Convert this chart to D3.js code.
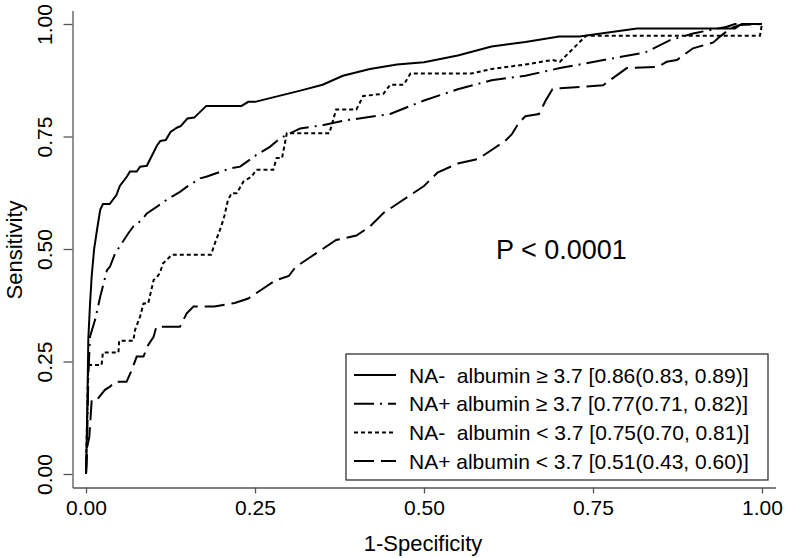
<!DOCTYPE html>
<html>
<head>
<meta charset="utf-8">
<script src="https://cdn.jsdelivr.net/npm/d3@7"></script>
<style>
  body { margin: 0; background: #fff; }
  svg { font-family: "Liberation Sans", Arial, sans-serif; }
  text { white-space: pre; }
</style>
</head>
<body>
<script>
// ROC curves, [1-specificity, sensitivity] pairs
var naNegHigh = [
  [0,0],[0.002,0.15],[0.0034,0.30],[0.006,0.38],[0.0084,0.44],[0.012,0.50],[0.016,0.54],
  [0.021,0.587],[0.025,0.60],[0.035,0.60],[0.045,0.62],[0.05,0.64],[0.06,0.66],[0.065,0.672],
  [0.075,0.672],[0.08,0.683],[0.09,0.685],[0.095,0.70],[0.105,0.73],[0.11,0.74],[0.118,0.742],
  [0.125,0.76],[0.135,0.77],[0.14,0.773],[0.15,0.79],[0.16,0.792],[0.178,0.818],[0.23,0.818],
  [0.24,0.827],[0.25,0.827],[0.317,0.852],[0.35,0.865],[0.38,0.885],[0.42,0.90],[0.46,0.91],
  [0.50,0.915],[0.55,0.93],[0.60,0.95],[0.65,0.96],[0.70,0.972],[0.73,0.972],[0.815,0.99],
  [0.96,0.99],[0.97,1],[1,1]
];
var naPosHigh = [
  [0,0],[0.002,0.10],[0.0034,0.216],[0.0059,0.305],[0.0133,0.342],[0.021,0.394],[0.031,0.453],
  [0.0355,0.461],[0.043,0.49],[0.0626,0.535],[0.07,0.55],[0.082,0.564],[0.09,0.579],[0.105,0.594],
  [0.119,0.609],[0.139,0.627],[0.149,0.638],[0.169,0.657],[0.179,0.661],[0.213,0.679],[0.228,0.683],
  [0.252,0.709],[0.272,0.727],[0.287,0.746],[0.317,0.768],[0.35,0.775],[0.38,0.785],[0.45,0.80],
  [0.50,0.83],[0.55,0.855],[0.60,0.875],[0.65,0.885],[0.701,0.902],[0.82,0.935],[0.829,0.938],
  [0.864,0.964],[0.898,0.979],[0.918,0.985],[0.948,0.994],[0.96,1],[1,1]
];
var naNegLow = [
  [0,0],[0,0.009],[0.0034,0.247],[0.006,0.242],[0.023,0.242],[0.025,0.27],[0.048,0.27],
  [0.049,0.296],[0.07,0.296],[0.0725,0.32],[0.08,0.35],[0.085,0.379],[0.092,0.379],[0.10,0.431],
  [0.104,0.436],[0.109,0.446],[0.114,0.468],[0.127,0.487],[0.185,0.487],[0.19,0.51],[0.20,0.55],
  [0.205,0.575],[0.21,0.609],[0.2155,0.624],[0.223,0.624],[0.233,0.65],[0.245,0.661],[0.252,0.676],
  [0.277,0.676],[0.282,0.702],[0.29,0.702],[0.297,0.757],[0.36,0.757],[0.37,0.81],[0.40,0.81],
  [0.41,0.84],[0.44,0.845],[0.45,0.865],[0.47,0.865],[0.48,0.89],[0.57,0.89],[0.60,0.90],
  [0.65,0.91],[0.69,0.92],[0.701,0.916],[0.733,0.964],[0.74,0.974],[0.997,0.974],[1,1]
];
var naPosLow = [
  [0,0],[0.0019,0.061],[0.0049,0.083],[0.0084,0.164],[0.0158,0.164],[0.028,0.187],[0.0355,0.194],
  [0.043,0.205],[0.06,0.205],[0.0676,0.231],[0.075,0.261],[0.085,0.261],[0.092,0.287],[0.10,0.305],
  [0.104,0.327],[0.139,0.327],[0.149,0.357],[0.159,0.372],[0.19,0.372],[0.22,0.38],[0.24,0.39],
  [0.26,0.41],[0.28,0.43],[0.30,0.44],[0.31,0.46],[0.33,0.48],[0.35,0.50],[0.37,0.52],[0.40,0.53],
  [0.42,0.55],[0.44,0.58],[0.46,0.60],[0.48,0.62],[0.50,0.64],[0.52,0.67],[0.55,0.69],[0.58,0.70],
  [0.60,0.72],[0.62,0.74],[0.63,0.755],[0.64,0.78],[0.65,0.795],[0.67,0.80],[0.68,0.83],
  [0.69,0.855],[0.701,0.857],[0.765,0.864],[0.80,0.902],[0.846,0.905],[0.859,0.916],[0.874,0.92],
  [0.898,0.946],[0.928,0.959],[0.938,0.972],[0.953,0.99],[0.967,0.998],[1,1]
];

var seriesLabels = [
  "NA-  albumin \u2265 3.7 [0.86(0.83, 0.89)]",
  "NA+ albumin \u2265 3.7 [0.77(0.71, 0.82)]",
  "NA-  albumin < 3.7 [0.75(0.70, 0.81)]",
  "NA+ albumin < 3.7 [0.51(0.43, 0.60)]"
];
var tickValues = [0, 0.25, 0.5, 0.75, 1];
var tickLabels = ["0.00", "0.25", "0.50", "0.75", "1.00"];

var w = 786, h = 558;
var series = [naNegHigh, naPosHigh, naNegLow, naPosLow];
var dashes = [null, "20,6,2,6", "4,3", "20,7"];

var svg = d3.select("body").append("svg")
    .attr("width", w)
    .attr("height", h);

// scales padded a bit past 0..1 like the stata plot region
var x = d3.scaleLinear().domain([-0.02, 1.02]).range([72.5, 775.5]);
var y = d3.scaleLinear().domain([-0.03, 1.03]).range([487.5, 10.5]);

var axisColor = "#555";

var xAxis = svg.append("g")
    .attr("transform", "translate(0,487.5)")
    .call(d3.axisBottom(x).tickValues(tickValues).tickSize(6).tickSizeOuter(0)
        .tickFormat(function(d, i) { return tickLabels[i]; }));
xAxis.selectAll("text")
    .attr("y", 27.5)
    .attr("dy", null)
    .attr("fill", "#000")
    .style("font-size", "21px");

var yAxis = svg.append("g")
    .attr("transform", "translate(72.5,0)")
    .call(d3.axisLeft(y).tickValues(tickValues).tickSize(9).tickSizeOuter(0)
        .tickFormat(function(d, i) { return tickLabels[i]; }));
yAxis.selectAll("text")
    .attr("transform", "rotate(-90)")
    .attr("x", 0)
    .attr("y", -20.5)
    .attr("dy", null)
    .attr("text-anchor", "middle")
    .attr("fill", "#000")
    .style("font-size", "21px");

svg.selectAll(".domain, .tick line")
    .attr("stroke", axisColor)
    .attr("stroke-width", 1.3);
svg.selectAll(".tick text").attr("font-family", null);

// axis titles
svg.append("text")
    .attr("x", 423)
    .attr("y", 551)
    .attr("text-anchor", "middle")
    .style("font-size", "22px")
    .text("1-Specificity");

svg.append("text")
    .attr("transform", "translate(22,250) rotate(-90)")
    .attr("text-anchor", "middle")
    .style("font-size", "22px")
    .text("Sensitivity");

// curves
var line = d3.line()
    .x(function(d) { return x(d[0]); })
    .y(function(d) { return y(d[1]); });

svg.selectAll("path.roc")
    .data(series)
    .enter()
    .append("path")
    .attr("class", "roc")
    .attr("d", line)
    .attr("fill", "none")
    .attr("stroke", "#000")
    .attr("stroke-width", 2)
    .attr("stroke-dasharray", function(d, i) { return dashes[i]; });

svg.append("text")
    .attr("x", 496)
    .attr("y", 259)
    .style("font-size", "27px")
    .text("P < 0.0001");

// legend
var legend = svg.append("g");
legend.append("rect")
    .attr("x", 346)
    .attr("y", 354)
    .attr("width", 422)
    .attr("height", 126)
    .attr("fill", "#fff")
    .attr("stroke", "#333")
    .attr("stroke-width", 1.3);

var rows = legend.selectAll("g.row")
    .data(seriesLabels)
    .enter()
    .append("g")
    .attr("class", "row")
    .attr("transform", function(d, i) { return "translate(0," + (375 + i * 28.7) + ")"; });

rows.append("line")
    .attr("x1", 354)
    .attr("x2", 396)
    .attr("stroke", "#000")
    .attr("stroke-width", 2)
    .attr("stroke-dasharray", function(d, i) { return dashes[i]; });

rows.append("text")
    .attr("x", 409)
    .attr("y", 7.5)
    .style("font-size", "21px")
    .text(function(d) { return d; });
</script>
</body>
</html>
